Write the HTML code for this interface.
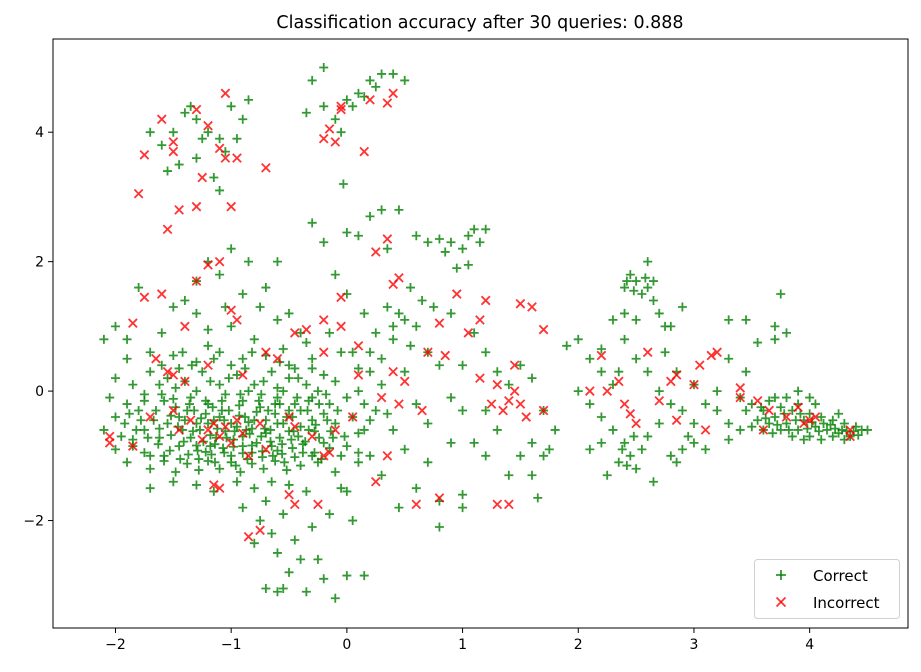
<!DOCTYPE html>
<html><head><meta charset="utf-8"><style>
html,body{margin:0;padding:0;background:#fff;}
svg{display:block;font-family:"DejaVu Sans","Liberation Sans",sans-serif;}
</style></head><body>
<svg id="chart" width="921" height="672" viewBox="0 0 921 672" xmlns="http://www.w3.org/2000/svg">
<rect width="921" height="672" fill="#fff"/>
<text x="480" y="28" font-size="17.5" text-anchor="middle" fill="#000">Classification accuracy after 30 queries: 0.888</text>
<g id="marks"></g>
<rect x="53" y="39" width="855" height="589" fill="none" stroke="#000" stroke-width="1"/>
<g id="axes"></g>
<g>
<rect x="754.5" y="559.5" width="145" height="59" rx="3" fill="#fff" fill-opacity="0.8" stroke="#d0d0d0"/>
<g stroke="green" stroke-opacity="0.8" stroke-width="1.8"><line x1="776" y1="575" x2="786" y2="575"/><line x1="781" y1="570" x2="781" y2="580"/></g>
<text x="813" y="581" font-size="15">Correct</text>
<g stroke="red" stroke-opacity="0.8" stroke-width="1.8"><line x1="776.5" y1="597.5" x2="785.5" y2="606.5"/><line x1="776.5" y1="606.5" x2="785.5" y2="597.5"/></g>
<text x="813" y="608" font-size="15">Incorrect</text>
</g>
</svg>
<script>
const xTicks = [-2,-1,0,1,2,3,4];
const yTicks = [-2,0,2,4];
const correctPoints = [
[-1.6,3.8],[-1.5,4.0],[-1.4,4.3],[-1.3,4.2],[-1.2,4.0],[-1.1,3.9],[-1.0,4.4],[-0.9,4.2],[-1.45,3.5],[-1.3,3.6],[-1.15,3.3],[-1.05,3.7],[-0.95,3.9],[-1.7,4.0],[-1.25,3.9],[-0.85,4.5],[-1.35,4.4],[-1.55,3.4],[-1.1,3.1],
[-0.2,5.0],[-0.3,4.8],[0.1,4.6],[0.2,4.8],[0.3,4.9],[0.4,4.9],[0.5,4.8],[0.0,4.5],[-0.1,4.2],[-0.05,4.0],[0.05,4.4],[0.25,4.7],[-0.35,4.3],[0.15,4.55],[-0.2,4.4],[-0.03,3.2],
[-1.9,0.5],[-1.7,0.6],[-1.5,0.55],[-1.3,0.45],[-1.1,0.6],[-0.9,0.5],[-0.7,0.55],[-0.5,0.4],[-0.3,0.5],[-1.6,0.4],[-1.2,0.7],[-0.8,0.8],[-1.0,1.0],[-0.6,1.1],[-1.3,1.2],[-0.9,1.5],[-1.1,1.8],[-0.85,2.0],[-1.0,2.2],[-1.2,2.0],[-0.7,1.6],[-0.5,1.2],[-0.4,0.9],[-1.4,1.4],[-1.8,1.6],[-2.0,1.0],[-1.9,0.8],[-2.1,0.8],[-1.6,0.9],[-1.5,1.3],[-0.6,2.0],[-1.3,1.7],[-0.75,1.3],[-1.05,1.3],[-1.2,0.95],
[-2.0,0.2],[-1.85,0.1],[-1.7,0.3],[-1.55,0.2],[-1.4,0.15],[-1.25,0.3],[-1.1,0.1],[-0.95,0.25],[-0.8,0.1],[-0.65,0.3],[-0.5,0.2],[-0.35,0.1],[-0.2,0.25],[-0.1,0.15],[-1.75,-0.05],[-1.45,0.35],[-1.0,0.4],[-0.6,0.05],[-0.45,0.35],[-0.25,0.0],
[-2.05,-0.1],[-1.9,-0.2],[-1.75,-0.15],[-1.6,-0.05],[-1.48,-0.25],[-1.35,-0.1],[-1.2,-0.2],[-1.05,-0.05],[-0.9,-0.15],[-0.75,-0.25],[-0.6,-0.1],[-0.45,-0.2],[-0.3,-0.1],[-0.15,-0.2],[0.0,-0.1],[0.15,-0.2],[-1.3,0.0],[-0.55,0.0],[-0.85,0.0],
[-2.0,-0.4],[-1.88,-0.35],[-1.78,-0.45],[-1.65,-0.3],[-1.55,-0.5],[-1.45,-0.4],[-1.38,-0.3],[-1.3,-0.5],[-1.22,-0.35],[-1.15,-0.45],[-1.08,-0.3],[-1.0,-0.5],[-0.93,-0.38],[-0.85,-0.48],[-0.78,-0.32],[-0.7,-0.45],[-0.62,-0.35],[-0.55,-0.5],[-0.47,-0.4],[-0.4,-0.3],[-0.3,-0.45],[-0.2,-0.35],[-0.1,-0.5],[0.05,-0.4],[0.2,-0.45],
[-2.1,-0.6],[-1.95,-0.7],[-1.82,-0.6],[-1.72,-0.72],[-1.62,-0.58],[-1.52,-0.68],[-1.42,-0.6],[-1.35,-0.72],[-1.27,-0.6],[-1.18,-0.68],[-1.12,-0.58],[-1.04,-0.72],[-0.97,-0.62],[-0.9,-0.7],[-0.82,-0.58],[-0.74,-0.7],[-0.66,-0.6],[-0.58,-0.72],[-0.5,-0.62],[-0.42,-0.7],[-0.33,-0.6],[-0.24,-0.72],[-0.14,-0.62],[-0.02,-0.7],[0.1,-0.65],
[-2.0,-0.9],[-1.85,-0.85],[-1.75,-0.95],[-1.63,-0.82],[-1.53,-0.92],[-1.45,-0.85],[-1.37,-0.98],[-1.3,-0.84],[-1.22,-0.94],[-1.14,-0.82],[-1.06,-0.95],[-0.98,-0.86],[-0.9,-0.96],[-0.82,-0.84],[-0.73,-0.93],[-0.65,-0.85],[-0.56,-0.97],[-0.47,-0.88],[-0.38,-0.82],[-0.28,-0.95],[-0.15,-0.88],[0.0,-0.85],
[-1.9,-1.1],[-1.7,-1.2],[-1.58,-1.08],[-1.48,-1.25],[-1.38,-1.12],[-1.28,-1.22],[-1.2,-1.08],[-1.1,-1.2],[-1.0,-1.1],[-0.92,-1.25],[-0.82,-1.12],[-0.72,-1.2],[-0.62,-1.08],[-0.52,-1.22],[-0.4,-1.15],[-0.25,-1.1],[-0.1,-1.25],[0.1,-1.1],
[-1.7,-1.5],[-1.5,-1.4],[-1.3,-1.45],[-1.15,-1.55],[-0.95,-1.4],[-0.8,-1.5],[-0.65,-1.4],[-0.5,-1.45],[-0.35,-1.55],[-0.05,-1.5],[0.0,-1.55],
[-1.58,-0.15],[-1.52,-0.38],[-1.46,-0.55],[-1.41,-0.78],[-1.36,-0.2],[-1.33,-0.62],[-1.29,-0.92],[-1.26,-0.42],[-1.24,-0.78],[-1.2,-0.5],[-1.17,-0.98],[-1.16,-0.25],[-1.13,-0.72],[-1.1,-0.4],[-1.07,-0.88],[-1.05,-0.62],[-1.02,-0.3],[-1.0,-1.0],[-0.98,-0.75],[-0.95,-0.55],[-0.93,-0.22],[-0.9,-0.85],[-0.88,-0.4],[-0.86,-1.05],[-0.84,-0.66],[-0.8,-0.45],[-0.78,-0.8],[-0.76,-0.15],[-0.73,-1.02],[-0.71,-0.58],[-0.68,-0.3],[-0.66,-0.78],[-0.64,-1.0],[-0.6,-0.5],[-0.58,-0.2],[-0.56,-0.82],[-0.52,-0.4],[-0.48,-0.75],[-0.45,-1.02],[-0.43,-0.1],[-0.4,-0.55],[-0.36,-0.78],[-0.34,-0.3],[-0.3,-1.0],[-0.27,-0.52],[-0.24,-0.2],[-0.2,-0.8],[-0.17,-0.45],[-1.62,-0.72],[-1.67,-0.45],[-1.7,-1.0],[-1.75,-0.6],[-1.8,-0.3],[-1.85,-0.75],[-1.92,-0.5],[-1.58,-1.0],[-1.5,-0.12],[-1.44,-1.05],[-1.4,-0.45],[-1.32,-0.3],[-1.28,-1.05],[-1.22,-0.15],[-1.18,-0.85],[-1.14,-1.1],[-1.08,-0.15],[-1.06,-0.45],[-0.96,-1.15],[-0.92,-0.05],[-0.87,-0.6],[-0.82,-0.95],[-0.74,-0.05],[-0.7,-0.65],[-0.62,-0.2],[-0.6,-0.92],[-0.54,-1.1],[-0.5,-0.3],[-0.46,-0.62],[-0.38,-0.95],[-0.33,-0.15],[-0.28,-0.62],[-0.22,-1.05],[-0.18,-0.05],[-0.12,-0.72],[-0.08,-0.3],[-0.05,-1.0],[-1.48,0.05],[-1.34,0.4],[-1.18,0.15],[-1.02,0.2],[-0.88,0.35],[-0.72,0.15],[-0.58,0.45],[-0.42,0.2],[-0.3,0.35],[-1.62,0.1],[-1.42,0.6],[-1.15,0.5],[-0.82,0.6],[-0.55,0.65],[-0.35,0.75],
[-0.9,-1.8],[-0.75,-2.0],[-0.65,-2.2],[-0.55,-1.9],[-0.6,-2.5],[-0.45,-2.3],[-0.5,-2.8],[-0.35,-3.1],[-0.7,-3.05],[-0.6,-3.1],[-0.2,-2.9],[-0.4,-2.6],[-0.3,-2.1],[0.0,-2.85],[-0.1,-3.2],[0.15,-2.85],[-0.8,-2.35],[-0.55,-3.05],[-0.25,-2.6],[-0.7,-1.7],[0.05,-2.0],[-0.15,-1.9],
[0.1,0.0],[0.2,0.3],[0.3,0.5],[0.4,0.8],[0.5,1.1],[0.35,1.3],[0.45,1.2],[0.6,1.0],[0.7,0.6],[0.8,0.4],[0.25,0.9],[0.15,1.2],[0.05,0.6],[0.5,0.3],[0.6,-0.2],[0.7,-0.5],[0.9,-0.1],[1.0,0.4],[0.4,-0.6],[0.5,-0.9],[0.3,-1.3],[0.6,-1.5],[0.8,-1.7],[0.2,-1.0],[0.45,-1.8],[0.8,-2.1],[0.7,-1.1],[1.0,-1.6],[1.0,-1.8],[0.9,-0.8],[0.3,2.8],[0.2,2.7],[0.35,2.2],[0.45,2.8],[0.1,2.4],[0.0,2.45],[0.6,2.4],[0.7,2.3],[0.8,2.35],[0.9,2.3],[1.0,2.2],[1.05,2.4],[1.1,2.5],[1.15,2.3],[0.95,1.9],[1.2,2.5],[0.85,2.15],[1.05,1.95],[0.55,1.6],[0.65,1.4],[0.9,1.2],[1.1,0.9],[1.2,0.6],[1.3,0.3],[1.4,0.1],[1.5,0.4],[1.6,0.2],[1.7,-0.3],[1.8,-0.6],[1.6,-0.8],[1.5,-1.0],[1.4,-1.3],[1.6,-1.3],[1.7,-1.0],[1.75,-0.9],[1.65,-1.65],[1.2,-0.3],[1.3,-0.6],[1.1,-0.8],[1.2,-1.0],[1.0,-0.3],[0.55,0.7],[0.75,1.3],[-0.3,2.6],[-0.2,2.3],[-0.1,1.8],[0.0,1.5],[-0.15,0.9],[-0.05,0.6],[0.1,0.35],[0.25,-0.3],
[0.15,-0.6],[0.3,0.1],[0.35,-0.35],[0.4,1.0],[0.2,0.6],[0.1,-0.95],
[1.9,0.7],[2.0,0.8],[2.1,0.5],[2.2,0.3],[2.3,0.1],[2.0,0.0],[2.1,-0.2],[2.2,-0.4],[2.3,-0.6],[2.4,-0.8],[2.45,-1.0],[2.5,-1.2],[2.55,-0.9],[2.6,-0.7],[2.35,-1.1],[2.2,-0.8],[2.1,-0.9],[2.4,1.6],[2.45,1.8],[2.5,1.7],[2.55,1.5],[2.6,1.6],[2.65,1.4],[2.4,1.2],[2.5,1.1],[2.7,1.2],[2.75,1.0],[2.8,1.0],[2.3,1.1],[2.6,2.0],[2.65,1.7],[2.9,1.3],[2.5,0.5],[2.6,0.3],[2.7,0.0],[2.8,-0.2],[2.9,-0.3],[3.0,-0.5],[3.0,-0.8],[2.9,-0.9],[2.8,-1.0],[2.85,-1.1],[2.95,-0.7],[2.7,-0.5],[2.65,-1.4],[2.25,-1.3],[2.4,0.8],[2.35,0.3],[3.1,-0.2],[3.2,-0.3],[3.3,0.5],[3.3,1.1],[3.45,1.1],[3.55,0.75],[3.45,0.3],[3.2,0.0],[3.1,-0.9],[3.3,-0.5],[2.85,0.3],[2.75,0.6],[2.2,0.65],[3.0,0.1],
[2.42,1.7],[2.48,1.55],[2.58,1.75],[2.38,-0.9],[2.48,-0.7],[2.42,-1.15],
[3.4,-0.1],[3.45,-0.3],[3.5,-0.2],[3.55,-0.45],[3.6,-0.3],[3.65,-0.15],[3.7,-0.4],[3.75,-0.25],[3.8,-0.5],[3.85,-0.3],[3.9,-0.2],[3.95,-0.45],[4.0,-0.35],[4.05,-0.55],[4.1,-0.4],[4.15,-0.6],[4.2,-0.45],[4.25,-0.65],[4.3,-0.5],[4.35,-0.7],[4.4,-0.55],[4.45,-0.6],[4.5,-0.6],[3.6,-0.6],[3.7,-0.1],[3.8,-0.1],[3.85,-0.7],[3.9,-0.6],[4.0,-0.7],[4.05,-0.2],[4.1,-0.75],[4.2,-0.7],[4.25,-0.35],[3.75,-0.6],[3.65,-0.5],[4.3,-0.75],[3.9,0.0],[4.0,-0.1],[3.95,-0.75],[3.75,1.5],[3.7,1.0],[3.7,0.8],[3.8,0.9],[3.3,-0.75],[3.4,-0.6],[3.5,-0.55],
[3.72,-0.52],[3.78,-0.35],[3.82,-0.6],[3.88,-0.45],[3.92,-0.35],[3.98,-0.58],[4.02,-0.48],[4.08,-0.62],[4.12,-0.5],[4.18,-0.52],[4.22,-0.58],[4.28,-0.6],[4.32,-0.62],[4.38,-0.62],[4.42,-0.68],[3.62,-0.42],[3.58,-0.25],[3.68,-0.65]
];
const incorrectPoints = [
[-1.75,3.65],[-1.8,3.05],[-1.6,4.2],[-1.5,3.85],[-1.5,3.7],[-1.3,4.35],[-1.25,3.3],[-1.2,4.1],[-1.1,3.75],[-1.05,3.6],[-1.05,4.6],[-1.3,2.85],[-1.45,2.8],[-1.0,2.85],[-0.95,3.6],[-0.7,3.45],[-0.2,3.9],[-0.15,4.05],[-0.1,3.85],[-0.05,4.4],[-0.05,4.35],[0.2,4.5],[0.35,4.45],[0.4,4.6],[0.15,3.7],[-1.55,2.5],
[0.25,2.15],[0.35,2.35],[0.4,1.65],[0.45,1.75],[-0.05,1.45],[-0.2,1.1],[-0.2,0.6],[0.1,0.7],[-0.05,1.0],[-1.2,1.95],[-1.1,2.0],[-1.0,1.25],[-0.95,1.1],[-1.3,1.7],[-1.4,1.0],[-1.6,1.5],[-1.75,1.45],[-1.85,1.05],[-1.65,0.5],[-1.5,0.25],[-1.55,0.3],[-1.4,0.15],[-1.2,0.4],[-0.9,0.25],[-0.7,0.6],[-0.6,0.5],[-0.45,0.9],[-0.35,0.95],
[-2.05,-0.7],[-2.05,-0.8],[-1.85,-0.85],[-1.7,-0.4],[-1.5,-0.3],[-1.45,-0.6],[-1.35,-0.45],[-1.25,-0.75],[-1.2,-0.6],[-1.15,-0.5],[-1.1,-0.7],[-1.05,-0.55],[-1.0,-0.8],[-0.95,-0.45],[-0.9,-0.65],[-0.85,-1.0],[-0.75,-0.5],[-0.7,-0.9],[-0.5,-0.4],[-0.45,-0.55],[-0.3,-0.7],[-1.15,-1.45],[-1.1,-1.5],[-0.75,-2.15],[-0.85,-2.25],[-0.5,-1.6],[-0.45,-1.75],[-0.25,-1.75],[-0.2,-1.0],[-0.15,-0.95],[-0.1,-0.6],[0.05,-0.4],[0.1,0.25],[0.3,-0.1],[0.4,0.3],[0.5,0.15],[0.35,-1.0],[0.45,-0.2],[0.6,-1.75],[0.65,-0.3],[0.8,-1.65],[0.25,-1.4],
[0.8,1.05],[0.85,0.55],[0.95,1.5],[1.05,0.9],[0.7,0.6],[1.15,1.1],[1.2,1.4],[1.15,0.2],[1.25,-0.2],[1.3,0.1],[1.35,-0.3],[1.4,-0.15],[1.45,0.0],[1.5,-0.2],[1.55,-0.4],[1.6,1.3],[1.5,1.35],[1.45,0.4],[1.7,0.95],[1.7,-0.3],[1.3,-1.75],[1.4,-1.75],
[2.1,0.0],[2.2,0.55],[2.25,0.0],[2.35,0.15],[2.4,-0.2],[2.45,-0.35],[2.5,-0.5],[2.6,0.6],[2.7,-0.15],[2.8,0.15],[2.85,0.25],[2.85,-0.45],[3.0,0.1],[3.05,0.4],[3.15,0.55],[3.1,-0.6],[3.2,0.6],[3.4,0.05],[3.4,-0.1],[3.55,-0.15],[3.65,-0.3],[3.8,-0.4],[3.9,-0.25],[3.95,-0.5],[4.05,-0.4],[4.35,-0.6],[4.35,-0.7],[3.6,-0.6],[4.0,-0.45]
];
const NS="http://www.w3.org/2000/svg";
const X0=53,X1=908,Y0=39,Y1=628;
const xMin=-2.54,xMax=4.85,yMin=-3.66,yMax=5.44;
function sx(v){return X0+(v-xMin)/(xMax-xMin)*(X1-X0);}
function sy(v){return Y1-(v-yMin)/(yMax-yMin)*(Y1-Y0);}
function mk(tag,attrs){const e=document.createElementNS(NS,tag);for(const k in attrs)e.setAttribute(k,attrs[k]);return e;}
const marks=document.getElementById('marks');
const gC=mk('g',{stroke:'green','stroke-opacity':'0.8','stroke-width':'1.8'});


correctPoints.forEach(p=>{const x=sx(p[0]),y=sy(p[1]);
 const g=mk('path',{d:`M${x-4.5},${y}H${x+4.5}M${x},${y-4.5}V${y+4.5}`});
 
 
 gC.appendChild(g);});
marks.appendChild(gC);
const gI=mk('g',{stroke:'red','stroke-opacity':'0.8','stroke-width':'1.8'});


incorrectPoints.forEach(p=>{const x=sx(p[0]),y=sy(p[1]);
 const g=mk('path',{d:`M${x-4.2},${y-4.2}L${x+4.2},${y+4.2}M${x-4.2},${y+4.2}L${x+4.2},${y-4.2}`});
 
 
 gI.appendChild(g);});
marks.appendChild(gI);
const axes=document.getElementById('axes');
xTicks.forEach(t=>{const x=sx(t);
 const l=mk('line',{x1:x,y1:Y1,x2:x,y2:Y1+5,stroke:'#000'});
 
 
 axes.appendChild(l);
 const tx=mk('text',{x:x,y:Y1+21,'font-size':'14','text-anchor':'middle'});
 
 
 tx.textContent=t<0?'\u2212'+Math.abs(t):String(t);axes.appendChild(tx);});
yTicks.forEach(t=>{const y=sy(t);
 const l=mk('line',{x1:X0-5,y1:y,x2:X0,y2:y,stroke:'#000'});
 
 
 axes.appendChild(l);
 const tx=mk('text',{x:X0-9,y:y+5,'font-size':'14','text-anchor':'end'});
 
 
 tx.textContent=t<0?'\u2212'+Math.abs(t):String(t);axes.appendChild(tx);});
</script>
</body></html>
